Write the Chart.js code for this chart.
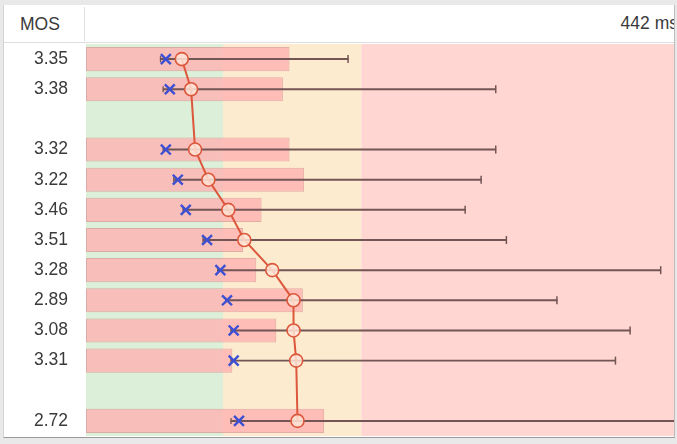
<!DOCTYPE html>
<html>
<head>
<meta charset="utf-8">
<title>MOS latency</title>
<script src="https://cdn.jsdelivr.net/npm/chart.js@4"></script>
<style>
  body {
    margin: 0;
    background: #e9e9e9;
    font-family: "Liberation Sans", Arial, Helvetica, sans-serif;
  }
  #panel {
    position: absolute;
    left: 3px;
    top: 5px;
    width: 670px;
    height: 432px;
    background: #fff;
    border-left: 1px solid #d4d4d4;
    border-right: 1px solid #bdbdbd;
    border-bottom: 1px solid #9a9a9a;
    overflow: hidden;
  }
  #header {
    position: relative;
    height: 37px;
    border-bottom: 1px solid #dedede;
    color: #3a3a3a;
    font-size: 17.5px;
  }
  #mos {
    position: absolute;
    left: 0;
    top: 2px;
    width: 81px;
    height: 34px;
    line-height: 34px;
    padding-left: 16px;
    box-sizing: border-box;
    border-right: 1px solid #e2e2e2;
  }
  #maxMs {
    position: absolute;
    right: -4px;
    top: 0;
    line-height: 36px;
    white-space: nowrap;
  }
  #chartWrap {
    position: absolute;
    left: 0;
    top: 38px;
  }
</style>
</head>
<body>
<div id="panel">
  <div id="header">
    <div id="mos">MOS</div>
    <div id="maxMs">442 ms</div>
  </div>
  <div id="chartWrap"><canvas id="mosChart" width="670" height="393"></canvas></div>
</div>

<script>
// === Data (ms) ===
const mosLabels = ["3.35", "3.38", "", "3.32", "3.22", "3.46", "3.51", "3.28", "2.89", "3.08", "3.31", "", "2.72"];
const barValues = [153, 148, null, 153, 164, 132, 118, 128, 163, 143, 110, null, 179];
const medianValues = [72, 79, null, 82, 92, 107, 119, 140, 156, 156, 158, null, 159];
const crossValues = [60, 63, null, 60, 69, 75, 91, 101, 106, 111, 111, null, 115];
const whiskerLow = [56, 58, null, 58, 66, 73, 88, 99, 105, 109, 109, null, 109];
const whiskerHigh = [197, 308, null, 308, 297, 285, 316, 432, 354, 409, 398, null, 480];
const zoneEdges = [0, 103, 207, 442];
const zoneColors = ["#dcefd8", "#fdebd0", "#ffd6d2"];
const axisMax = 442;

const whiskerColor = "#735555";

// === Background zones behind every row ===
const zonePlugin = {
  id: "zones",
  beforeDatasetsDraw(chart) {
    const { ctx, chartArea, scales } = chart;
    ctx.save();
    for (let i = 0; i < zoneColors.length; i++) {
      const x1 = scales.x.getPixelForValue(zoneEdges[i]);
      const x2 = scales.x.getPixelForValue(zoneEdges[i + 1]);
      ctx.fillStyle = zoneColors[i];
      ctx.fillRect(x1, chartArea.top, x2 - x1, chartArea.bottom - chartArea.top);
    }
    ctx.restore();
  },
};

const whiskerRanges = whiskerLow.map((lo, i) =>
  lo === null ? null : [lo, whiskerHigh[i]]
);

const ctx = document.getElementById("mosChart").getContext("2d");
new Chart(ctx, {
  type: "bar",
  plugins: [zonePlugin],
  data: {
    labels: mosLabels,
    datasets: [
      {
        type: "bar",
        data: barValues,
        indexAxis: "y",
        grouped: false,
        barPercentage: 0.8,
        categoryPercentage: 1,
        backgroundColor: "rgba(255, 178, 178, 0.8)",
        borderColor: "rgba(215, 145, 145, 0.7)",
        borderWidth: 1,
        borderSkipped: false,
        order: 6,
      },
      {
        type: "bar",
        data: whiskerRanges,
        indexAxis: "y",
        grouped: false,
        barThickness: 1.3,
        backgroundColor: whiskerColor,
        borderWidth: 0,
        order: 5,
      },
      {
        type: "line",
        data: whiskerHigh,
        indexAxis: "y",
        showLine: false,
        pointStyle: "line",
        rotation: 90,
        pointRadius: 4,
        pointBorderWidth: 1.5,
        pointBorderColor: whiskerColor,
        order: 4,
      },
      {
        type: "line",
        data: whiskerLow,
        indexAxis: "y",
        showLine: false,
        pointStyle: "line",
        rotation: 90,
        pointRadius: 3,
        pointBorderWidth: 1.3,
        pointBorderColor: whiskerColor,
        order: 3,
      },
      {
        type: "line",
        data: medianValues,
        indexAxis: "y",
        spanGaps: true,
        borderColor: "#dc573b",
        borderWidth: 2,
        tension: 0,
        pointStyle: "circle",
        pointRadius: 6.5,
        pointBorderWidth: 1.6,
        pointBorderColor: "#dc573b",
        pointBackgroundColor: "rgba(255, 228, 214, 0.85)",
        order: 2,
      },
      {
        type: "line",
        data: crossValues,
        indexAxis: "y",
        showLine: false,
        pointStyle: "crossRot",
        pointRadius: 7,
        pointBorderWidth: 2.4,
        pointBorderColor: "#3d4fd3",
        order: 1,
      },
    ],
  },
  options: {
    indexAxis: "y",
    responsive: false,
    animation: false,
    devicePixelRatio: 1,
    layout: { autoPadding: false, padding: { top: 1, bottom: 0, left: 0, right: 0 } },
    plugins: {
      legend: { display: false },
      tooltip: { enabled: false },
    },
    scales: {
      x: {
        type: "linear",
        display: false,
        min: 0,
        max: axisMax,
      },
      y: {
        type: "category",
        grid: { display: false },
        border: { display: false },
        ticks: {
          color: "#3a3a3a",
          padding: 10,
          font: { family: "'Liberation Sans', Arial, sans-serif", size: 17.5 },
        },
        afterFit(axis) {
          // fixed label column, rows fill the full height
          axis.width = 82;
          axis.paddingTop = 0;
          axis.paddingBottom = 0;
        },
      },
    },
  },
});
</script>
</body>
</html>
